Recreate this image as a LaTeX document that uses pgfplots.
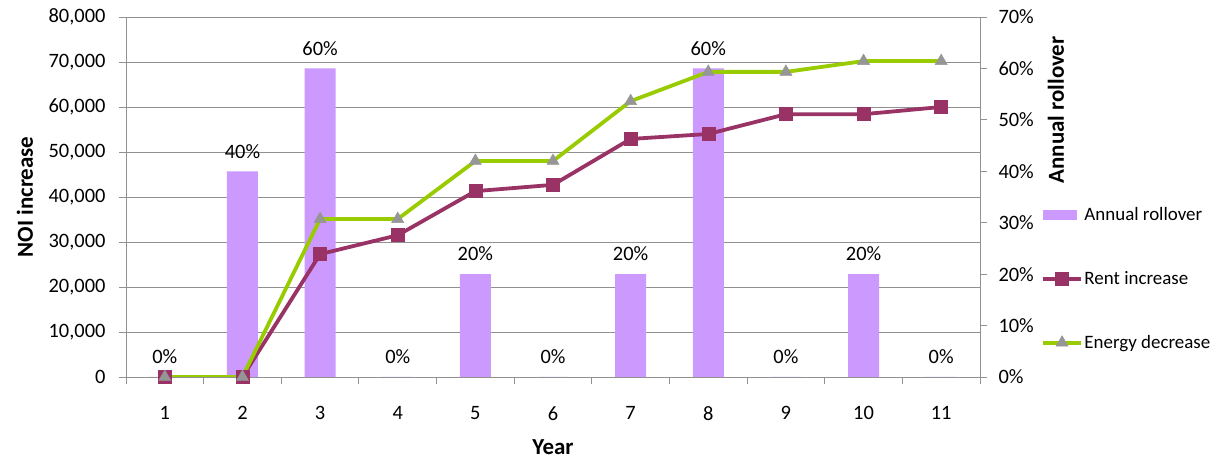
\documentclass[border=0pt]{standalone}
\usepackage{pgfplots}
\pgfplotsset{compat=1.18}
\usepackage{fontspec}
\setmainfont{Carlito}

\definecolor{rollover}{RGB}{204,153,255}
\definecolor{rent}{RGB}{153,51,102}
\definecolor{energy}{RGB}{153,204,0}
\definecolor{markgray}{RGB}{150,150,150}
\definecolor{gridgray}{RGB}{145,145,145}

\newcommand\ticksize{\fontsize{20.5}{24}\selectfont}
\newcommand\legendsize{\fontsize{19}{22}\selectfont}
\newcommand\titlesize{\fontsize{23}{26}\selectfont\bfseries}

\pgfplotsset{
  base/.style={
    scale only axis, width=854bp, height=360bp,
    xmin=0.5, xmax=11.5,
    /pgf/number format/assume math mode=true,
    tick label style={font=\ticksize, text=black},
    label style={font=\titlesize},
  },
  serieslinekey/.style={
    legend image code/.code={
      \draw[mark repeat=2, mark phase=2, ##1]
        plot coordinates {(0bp,0bp) (19bp,0bp) (38bp,0bp)};
    }
  },
  seriesbarkey/.style={
    legend image code/.code={
      \fill[##1, draw=none] (0bp,-5bp) rectangle (34bp,5bp);
    }
  },
}

\begin{document}
\begin{tikzpicture}
% Left axis: grid, NOI ticks and the year axis
\begin{axis}[base, name=main,
  ymin=0, ymax=80000, ytick={0,10000,...,80000},
  scaled y ticks=false,
  yticklabel style={xshift=-10bp, /pgf/number format/.cd, fixed, 1000 sep={,}},
  ymajorgrids, grid style={gridgray, line width=0.9bp},
  axis x line*=bottom, axis y line*=left,
  axis line style={gridgray, line width=0.9bp, -},
  tick align=outside,
  major tick length=7bp,
  tick style={gridgray, line width=0.9bp},
  xtick={1,...,11},
  major x tick style={draw=none},
  extra x ticks={0.5,1.5,...,11.5},
  extra x tick labels={,,,,,,,,,,,,},
  extra x tick style={major x tick style={draw=gridgray}, grid=none},
  xticklabel style={yshift=-19bp},
  ylabel={NOI increase}, xlabel={Year},
  ylabel style={at={([xshift=-101bp]axis description cs:0,0.5)}, anchor=center},
  xlabel style={at={([yshift=-70bp]axis description cs:0.5,0)}, anchor=center},
]
\end{axis}

% Right axis: annual rollover bars
\begin{axis}[base,
  ymin=0, ymax=70, ytick={0,10,...,70},
  axis y line*=right, axis x line=none,
  axis line style={gridgray, line width=0.9bp, -},
  tick align=outside,
  major tick length=7bp,
  tick style={gridgray, line width=0.9bp},
  yticklabel={\pgfmathprintnumber{\tick}\%},
  yticklabel style={xshift=8bp},
  ylabel={Annual rollover},
  ylabel style={at={([xshift=76bp]axis description cs:1,0.742)}, anchor=center},
  ybar, bar width=31bp,
  nodes near coords={\pgfmathprintnumber{\pgfplotspointmeta}\%},
  every node near coord/.append style={font=\ticksize, text=black, yshift=9.5bp},
]
\addplot[fill=rollover, draw=none] coordinates {
  (1,0) (2,40) (3,60) (4,0) (5,20) (6,0) (7,20) (8,60) (9,0) (10,20) (11,0)
};
\end{axis}

% NOI increase lines and the legend
\begin{axis}[base,
  ymin=0, ymax=80000, hide axis,
  legend style={draw=none, fill=none, font=\legendsize,
    at={(rel axis cs:1,0.483)}, anchor=north west, xshift=58bp,
    row sep=45.5bp, nodes={inner xsep=1.5bp}},
  legend cell align=left,
]
\addlegendimage{seriesbarkey, fill=rollover}
\addlegendentry{Annual rollover}
\addplot[serieslinekey, rent, line width=3.8bp, mark=square*,
  mark size=6.5bp, mark options={fill=rent, draw=rent, line width=0.5bp}]
  coordinates {
  (1,0) (2,0) (3,27300) (4,31500) (5,41300) (6,42700) (7,52900)
  (8,54000) (9,58400) (10,58400) (11,60000)
};
\addlegendentry{Rent increase}
\addplot[serieslinekey, energy, line width=3.8bp, mark=triangle*,
  mark size=7bp, mark options={fill=markgray, draw=markgray, line width=0.5bp}]
  coordinates {
  (1,0) (2,0) (3,35100) (4,35100) (5,48000) (6,48000) (7,61300)
  (8,67800) (9,67800) (10,70200) (11,70200)
};
\addlegendentry{Energy decrease}
\end{axis}

\pgfresetboundingbox
\useasboundingbox ([xshift=-126bp,yshift=-83bp]main.south west)
  rectangle ([xshift=236bp,yshift=17bp]main.north east);
\end{tikzpicture}
\end{document}
